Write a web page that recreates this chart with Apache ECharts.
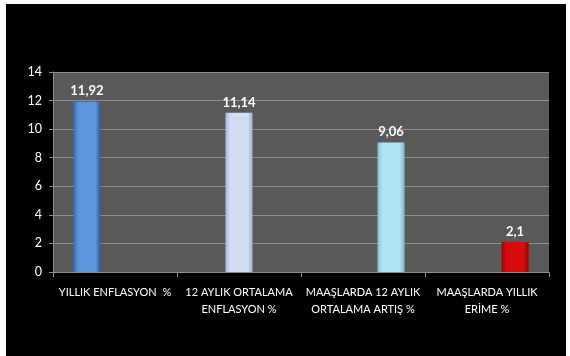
<!DOCTYPE html>
<html><head><meta charset="utf-8">
<script src="https://cdn.jsdelivr.net/npm/echarts@6/dist/echarts.min.js"></script>
<style>
html,body{margin:0;padding:0;background:#fff;width:570px;height:356px;overflow:hidden}
#c{position:absolute;left:6px;top:4px;width:560px;height:352px;background:#000}
</style></head><body><div id="c"></div>
<script>
const categories = ['YILLIK ENFLASYON  %', '12 AYLIK ORTALAMA\nENFLASYON %', 'MAAŞLARDA 12 AYLIK\nORTALAMA ARTIŞ %', 'MAAŞLARDA YILLIK\nERİME %'];
const values = [11.92, 11.14, 9.06, 2.1];
const slots = [0, 1, 2, 2];
const yTicks = [0, 2, 4, 6, 8, 10, 12, 14];
const barColors = [
  ['#3468b8', '#5c95de', '#2c5aa0'],
  ['#a8bde0', '#d0ddf2', '#9fb3d6'],
  ['#86c3d6', '#b0e2ef', '#7fb8cb'],
  ['#a00000', '#d80c0c', '#900000']
];

function grad(c) {
  return new echarts.graphic.LinearGradient(0, 0, 1, 0, [
    {offset: 0, color: c[0]}, {offset: 0.18, color: c[1]},
    {offset: 0.82, color: c[1]}, {offset: 1, color: c[2]}
  ]);
}

const nSlots = 3;
const series = [];
for (let s = 0; s < nSlots; s++) {
  const data = categories.map((_, i) => slots[i] === s ? {
    value: values[i],
    itemStyle: {color: grad(barColors[i])}
  } : '-');
  series.push({
    type: 'bar', data, barWidth: 27, barGap: '4%',
    label: {show: true, position: 'top', distance: 4, color: '#fff', fontWeight: 'bold',
      fontSize: 13, fontFamily: 'Lato',
      formatter: p => String(p.value).replace('.', ',')}
  });
}

const chart = echarts.init(document.getElementById('c'), null, {renderer: 'canvas'});
chart.setOption({
  backgroundColor: '#000',
  animation: false,
  grid: {left: 47, top: 68, width: 496, height: 200, show: true, backgroundColor: '#595959', borderWidth: 0},
  xAxis: {
    type: 'category', data: categories,
    axisLine: {lineStyle: {color: '#8c8c8c'}},
    axisTick: {show: true, length: 5, lineStyle: {color: '#8c8c8c'}},
    axisLabel: {color: '#fff', fontSize: 11, fontFamily: 'Lato', lineHeight: 17, margin: 12, interval: 0}
  },
  yAxis: {
    type: 'value', min: yTicks[0], max: yTicks[yTicks.length - 1], interval: yTicks[1] - yTicks[0],
    axisLine: {show: true, lineStyle: {color: '#8c8c8c'}},
    axisTick: {show: true, length: 4, lineStyle: {color: '#8c8c8c'}},
    splitLine: {lineStyle: {color: '#8f8f8f'}},
    axisLabel: {color: '#fff', fontSize: 12.5, fontFamily: 'Lato', margin: 11}
  },
  series
});
</script></body></html>
